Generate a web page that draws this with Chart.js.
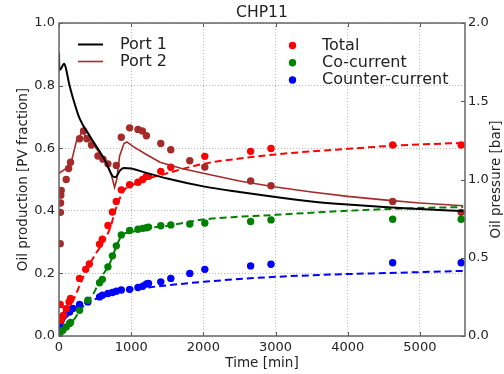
<!DOCTYPE html>
<html><head><meta charset="utf-8">
<script src="https://cdn.jsdelivr.net/npm/chart.js@4/dist/chart.umd.min.js"></script>
<style>html,body{margin:0;padding:0;background:#fff}</style>
</head><body>
<canvas id="c" width="504" height="374" style="width:504px;height:374px;display:block"></canvas>
<script>
// ---- tick labels ----
const xTicks = [0, 1000, 2000, 3000, 4000, 5000];
const yTicks = [0, 0.2, 0.4, 0.6, 0.8, 1.0];
const y2Ticks = [0, 0.5, 1.0, 1.5, 2.0];

// ---- oil production data [PV fraction] ----
const totalT = [17, 25, 40, 60, 100, 140, 160, 285, 370, 420, 562, 601, 678, 740, 794, 863, 979, 1094, 1160, 1211, 1240, 1410, 1549, 2020, 2655, 2937, 4623, 5572];
const totalV = [0.101, 0.05, 0.06, 0.066, 0.087, 0.109, 0.12, 0.184, 0.213, 0.23, 0.293, 0.309, 0.353, 0.396, 0.43, 0.467, 0.483, 0.491, 0.50, 0.51, 0.51, 0.526, 0.539, 0.574, 0.59, 0.599, 0.61, 0.61];

const coT = [10, 53, 100, 146, 160, 285, 400, 562, 601, 678, 740, 794, 863, 979, 1094, 1160, 1211, 1240, 1410, 1549, 1812, 2020, 2655, 2937, 4623, 5572];
const coV = [0.005, 0.018, 0.029, 0.04, 0.043, 0.082, 0.114, 0.17, 0.181, 0.221, 0.256, 0.288, 0.323, 0.337, 0.341, 0.344, 0.346, 0.348, 0.352, 0.355, 0.358, 0.361, 0.366, 0.371, 0.373, 0.373];

const counterT = [10, 20, 30, 50, 76, 100, 146, 192, 285, 400, 562, 601, 678, 740, 794, 863, 979, 1094, 1160, 1211, 1240, 1410, 1549, 1812, 2020, 2655, 2937, 4623, 5572];
const counterV = [0.03, 0.045, 0.05, 0.06, 0.066, 0.072, 0.077, 0.088, 0.101, 0.109, 0.125, 0.13, 0.136, 0.139, 0.143, 0.147, 0.149, 0.155, 0.159, 0.166, 0.168, 0.173, 0.184, 0.2, 0.213, 0.224, 0.229, 0.234, 0.234];

// ---- fitted curves (dashed) ----
const totalFitT = [0, 100, 200, 330, 450, 586, 700, 800, 900, 1000, 1200, 1500, 2000, 2500, 3000, 3500, 4000, 4500, 5000, 5600];
const totalFitV = [0.01, 0.07, 0.115, 0.185, 0.24, 0.291, 0.34, 0.415, 0.465, 0.48, 0.50, 0.52, 0.55, 0.567, 0.58, 0.59, 0.598, 0.606, 0.612, 0.617];

const coFitT = [0, 76, 200, 300, 400, 500, 563, 700, 794, 860, 900, 1000, 1257, 1500, 2000, 2500, 3000, 3500, 4000, 4500, 5000, 5600];
const coFitV = [0, 0.029, 0.05, 0.085, 0.112, 0.145, 0.179, 0.23, 0.286, 0.318, 0.327, 0.332, 0.345, 0.352, 0.372, 0.381, 0.387, 0.394, 0.400, 0.405, 0.409, 0.412];

const counterFitT = [0, 20, 50, 100, 200, 300, 400, 600, 800, 1000, 1500, 2000, 2500, 3000, 3500, 4000, 4500, 5000, 5600];
const counterFitV = [0, 0.03, 0.045, 0.06, 0.085, 0.10, 0.11, 0.125, 0.14, 0.148, 0.162, 0.173, 0.182, 0.189, 0.194, 0.198, 0.201, 0.204, 0.208];

// ---- oil pressure [bar] ----
const port1T = [0, 5, 30, 70, 90, 146, 200, 285, 424, 562, 650, 747, 780, 850, 900, 1000, 1200, 1500, 2000, 2500, 3000, 3500, 4000, 4500, 5000, 5600];
const port1P = [1.81, 1.70, 1.71, 1.74, 1.72, 1.60, 1.51, 1.39, 1.28, 1.18, 1.11, 1.02, 1.015, 1.06, 1.074, 1.07, 1.044, 1.006, 0.956, 0.92, 0.888, 0.86, 0.84, 0.824, 0.812, 0.798];

const port2T = [0, 100, 180, 250, 280, 300, 330, 360, 400, 515, 655, 725, 770, 800, 840, 900, 940, 1030, 1210, 1400, 1700, 2000, 2500, 3000, 3500, 4000, 4500, 5000, 5600];
const port2P = [1.04, 1.07, 1.13, 1.26, 1.25, 1.29, 1.32, 1.28, 1.28, 1.20, 1.11, 1.03, 0.95, 1.0, 1.15, 1.23, 1.24, 1.21, 1.16, 1.11, 1.07, 1.04, 0.99, 0.952, 0.92, 0.892, 0.87, 0.85, 0.832];

const port2DotsT = [17, 20, 22, 25, 30, 100, 133, 160, 285, 340, 387, 450, 540, 609, 678, 794, 863, 979, 1094, 1155, 1211, 1410, 1549, 1812, 2020, 2655, 2937, 4623, 5572];
const port2DotsP = [0.59, 0.79, 0.85, 0.90, 0.93, 1.0, 1.07, 1.11, 1.26, 1.31, 1.26, 1.22, 1.15, 1.13, 1.10, 1.09, 1.27, 1.33, 1.32, 1.31, 1.28, 1.23, 1.19, 1.12, 1.08, 0.99, 0.96, 0.86, 0.79];

const pts = (t, v) => t.map((x, i) => ({x: x, y: v[i]}));

const FONT = '"DejaVu Sans", "Liberation Sans", sans-serif';
const TXT = '#222';
const RED = '#ff0000', GREEN = '#008000', BLUE = '#0000ff', BROWN = '#a52a2a', BLACK = '#000000';

function dots(data, color, order, axis) {
  return {data: data, showLine: false, pointRadius: 3.7, pointHoverRadius: 3.7,
    pointBackgroundColor: color, pointBorderColor: color, pointBorderWidth: 0,
    backgroundColor: color, borderColor: color, order: order, yAxisID: axis || 'y'};
}
function line(data, color, width, dash, order, axis, smooth) {
  return {data: data, showLine: true, pointRadius: 0, pointHoverRadius: 0,
    borderColor: color, backgroundColor: color, borderWidth: width, borderDash: dash,
    cubicInterpolationMode: smooth ? 'monotone' : 'default', tension: smooth ? 0.4 : 0,
    fill: false, order: order, yAxisID: axis || 'y'};
}

const overlay = {
  id: 'overlay',
  afterDraw(chart) {
    const ctx = chart.ctx, a = chart.chartArea;
    const sx = chart.scales.x, sy = chart.scales.y, sy2 = chart.scales.y2;
    ctx.save();
    // inward tick marks
    ctx.strokeStyle = '#555'; ctx.lineWidth = 1;
    ctx.beginPath();
    xTicks.forEach(v => { const p = Math.round(sx.getPixelForValue(v)) + 0.5;
      ctx.moveTo(p, a.bottom); ctx.lineTo(p, a.bottom - 4);
      ctx.moveTo(p, a.top); ctx.lineTo(p, a.top + 4); });
    yTicks.forEach(v => { const p = Math.round(sy.getPixelForValue(v)) + 0.5;
      ctx.moveTo(a.left, p); ctx.lineTo(a.left + 4, p); });
    y2Ticks.forEach(v => { const p = Math.round(sy2.getPixelForValue(v)) + 0.5;
      ctx.moveTo(a.right, p); ctx.lineTo(a.right - 4, p); });
    ctx.stroke();
    // frame
    ctx.strokeStyle = '#666'; ctx.lineWidth = 1.5;
    ctx.strokeRect(a.left, a.top, a.right - a.left, a.bottom - a.top);

    // title
    ctx.fillStyle = TXT;
    ctx.font = '15.6px ' + FONT;
    ctx.textAlign = 'center'; ctx.textBaseline = 'middle';
    ctx.fillText('CHP11', (a.left + a.right) / 2, 13);
    // axis titles
    ctx.font = '13.5px ' + FONT;
    ctx.fillText('Time [min]', (a.left + a.right) / 2, 363);
    ctx.save(); ctx.translate(23, (a.top + a.bottom) / 2); ctx.rotate(-Math.PI / 2);
    ctx.fillText('Oil production [PV fraction]', 0, 0); ctx.restore();
    ctx.save(); ctx.translate(496, (a.top + a.bottom) / 2); ctx.rotate(-Math.PI / 2);
    ctx.fillText('Oil pressure [bar]', 0, 0); ctx.restore();

    // legend 1 (lines)
    ctx.font = '16px ' + FONT; ctx.textAlign = 'left';
    const l1 = [['Port 1', BLACK, 2, 44.5], ['Port 2', BROWN, 1.6, 61.5]];
    l1.forEach(([lab, col, w, y]) => {
      ctx.strokeStyle = col; ctx.lineWidth = w;
      ctx.beginPath(); ctx.moveTo(78, y); ctx.lineTo(103, y); ctx.stroke();
      ctx.fillStyle = TXT; ctx.fillText(lab, 120, y + 0.5);
    });
    // legend 2 (markers)
    const l2 = [['Total', RED, 45.5], ['Co-current', GREEN, 62.7], ['Counter-current', BLUE, 80]];
    l2.forEach(([lab, col, y]) => {
      ctx.fillStyle = col; ctx.beginPath(); ctx.arc(292.5, y, 3.7, 0, Math.PI * 2); ctx.fill();
      ctx.fillStyle = TXT; ctx.fillText(lab, 322, y);
    });
    ctx.restore();
  }
};

const tickFont = {family: FONT, size: 13};

new Chart(document.getElementById('c'), {
  type: 'scatter',
  data: {
    datasets: [
      line(pts(port1T, port1P), BLACK, 2, [], 0, 'y2', true),
      line(pts(port2T, port2P), BROWN, 1.6, [], 1, 'y2', false),
      dots(pts(port2DotsT, port2DotsP), BROWN, 2, 'y2'),
      dots(pts(totalT, totalV), RED, 3),
      dots(pts(coT, coV), GREEN, 4),
      dots(pts(counterT, counterV), BLUE, 5),
      line(pts(totalFitT, totalFitV), RED, 2, [7, 4], 6, 'y', true),
      line(pts(coFitT, coFitV), GREEN, 2, [7, 4], 7, 'y', true),
      line(pts(counterFitT, counterFitV), BLUE, 2, [7, 4], 8, 'y', true)
    ]
  },
  options: {
    responsive: false, animation: false,
    layout: {padding: {top: 23, left: 0, right: 0, bottom: 0}},
    plugins: {legend: {display: false}, title: {display: false}, tooltip: {enabled: false}},
    scales: {
      x: {type: 'linear', min: 0, max: 5625,
        afterBuildTicks: s => { s.ticks = xTicks.map(v => ({value: v})); },
        afterFit: s => { s.height = 38; },
        ticks: {font: tickFont, color: TXT, padding: 4, maxRotation: 0, callback: v => String(v)},
        grid: {color: '#b8b8b8', lineWidth: 1, drawTicks: false},
        border: {display: false, dash: [1, 2]}},
      y: {type: 'linear', position: 'left', min: 0, max: 1,
        afterBuildTicks: s => { s.ticks = yTicks.map(v => ({value: v})); },
        afterFit: s => { s.width = 59; },
        ticks: {font: tickFont, color: TXT, padding: 4, callback: v => Number(v).toFixed(1)},
        grid: {color: '#b8b8b8', lineWidth: 1, drawTicks: false},
        border: {display: false, dash: [1, 2]}},
      y2: {type: 'linear', position: 'right', min: 0, max: 2,
        afterBuildTicks: s => { s.ticks = y2Ticks.map(v => ({value: v})); },
        afterFit: s => { s.width = 39; },
        ticks: {font: tickFont, color: TXT, padding: 3, callback: v => Number(v).toFixed(1)},
        grid: {display: false, drawTicks: false},
        border: {display: false}}
    }
  },
  plugins: [overlay]
});
</script>
</body></html>
